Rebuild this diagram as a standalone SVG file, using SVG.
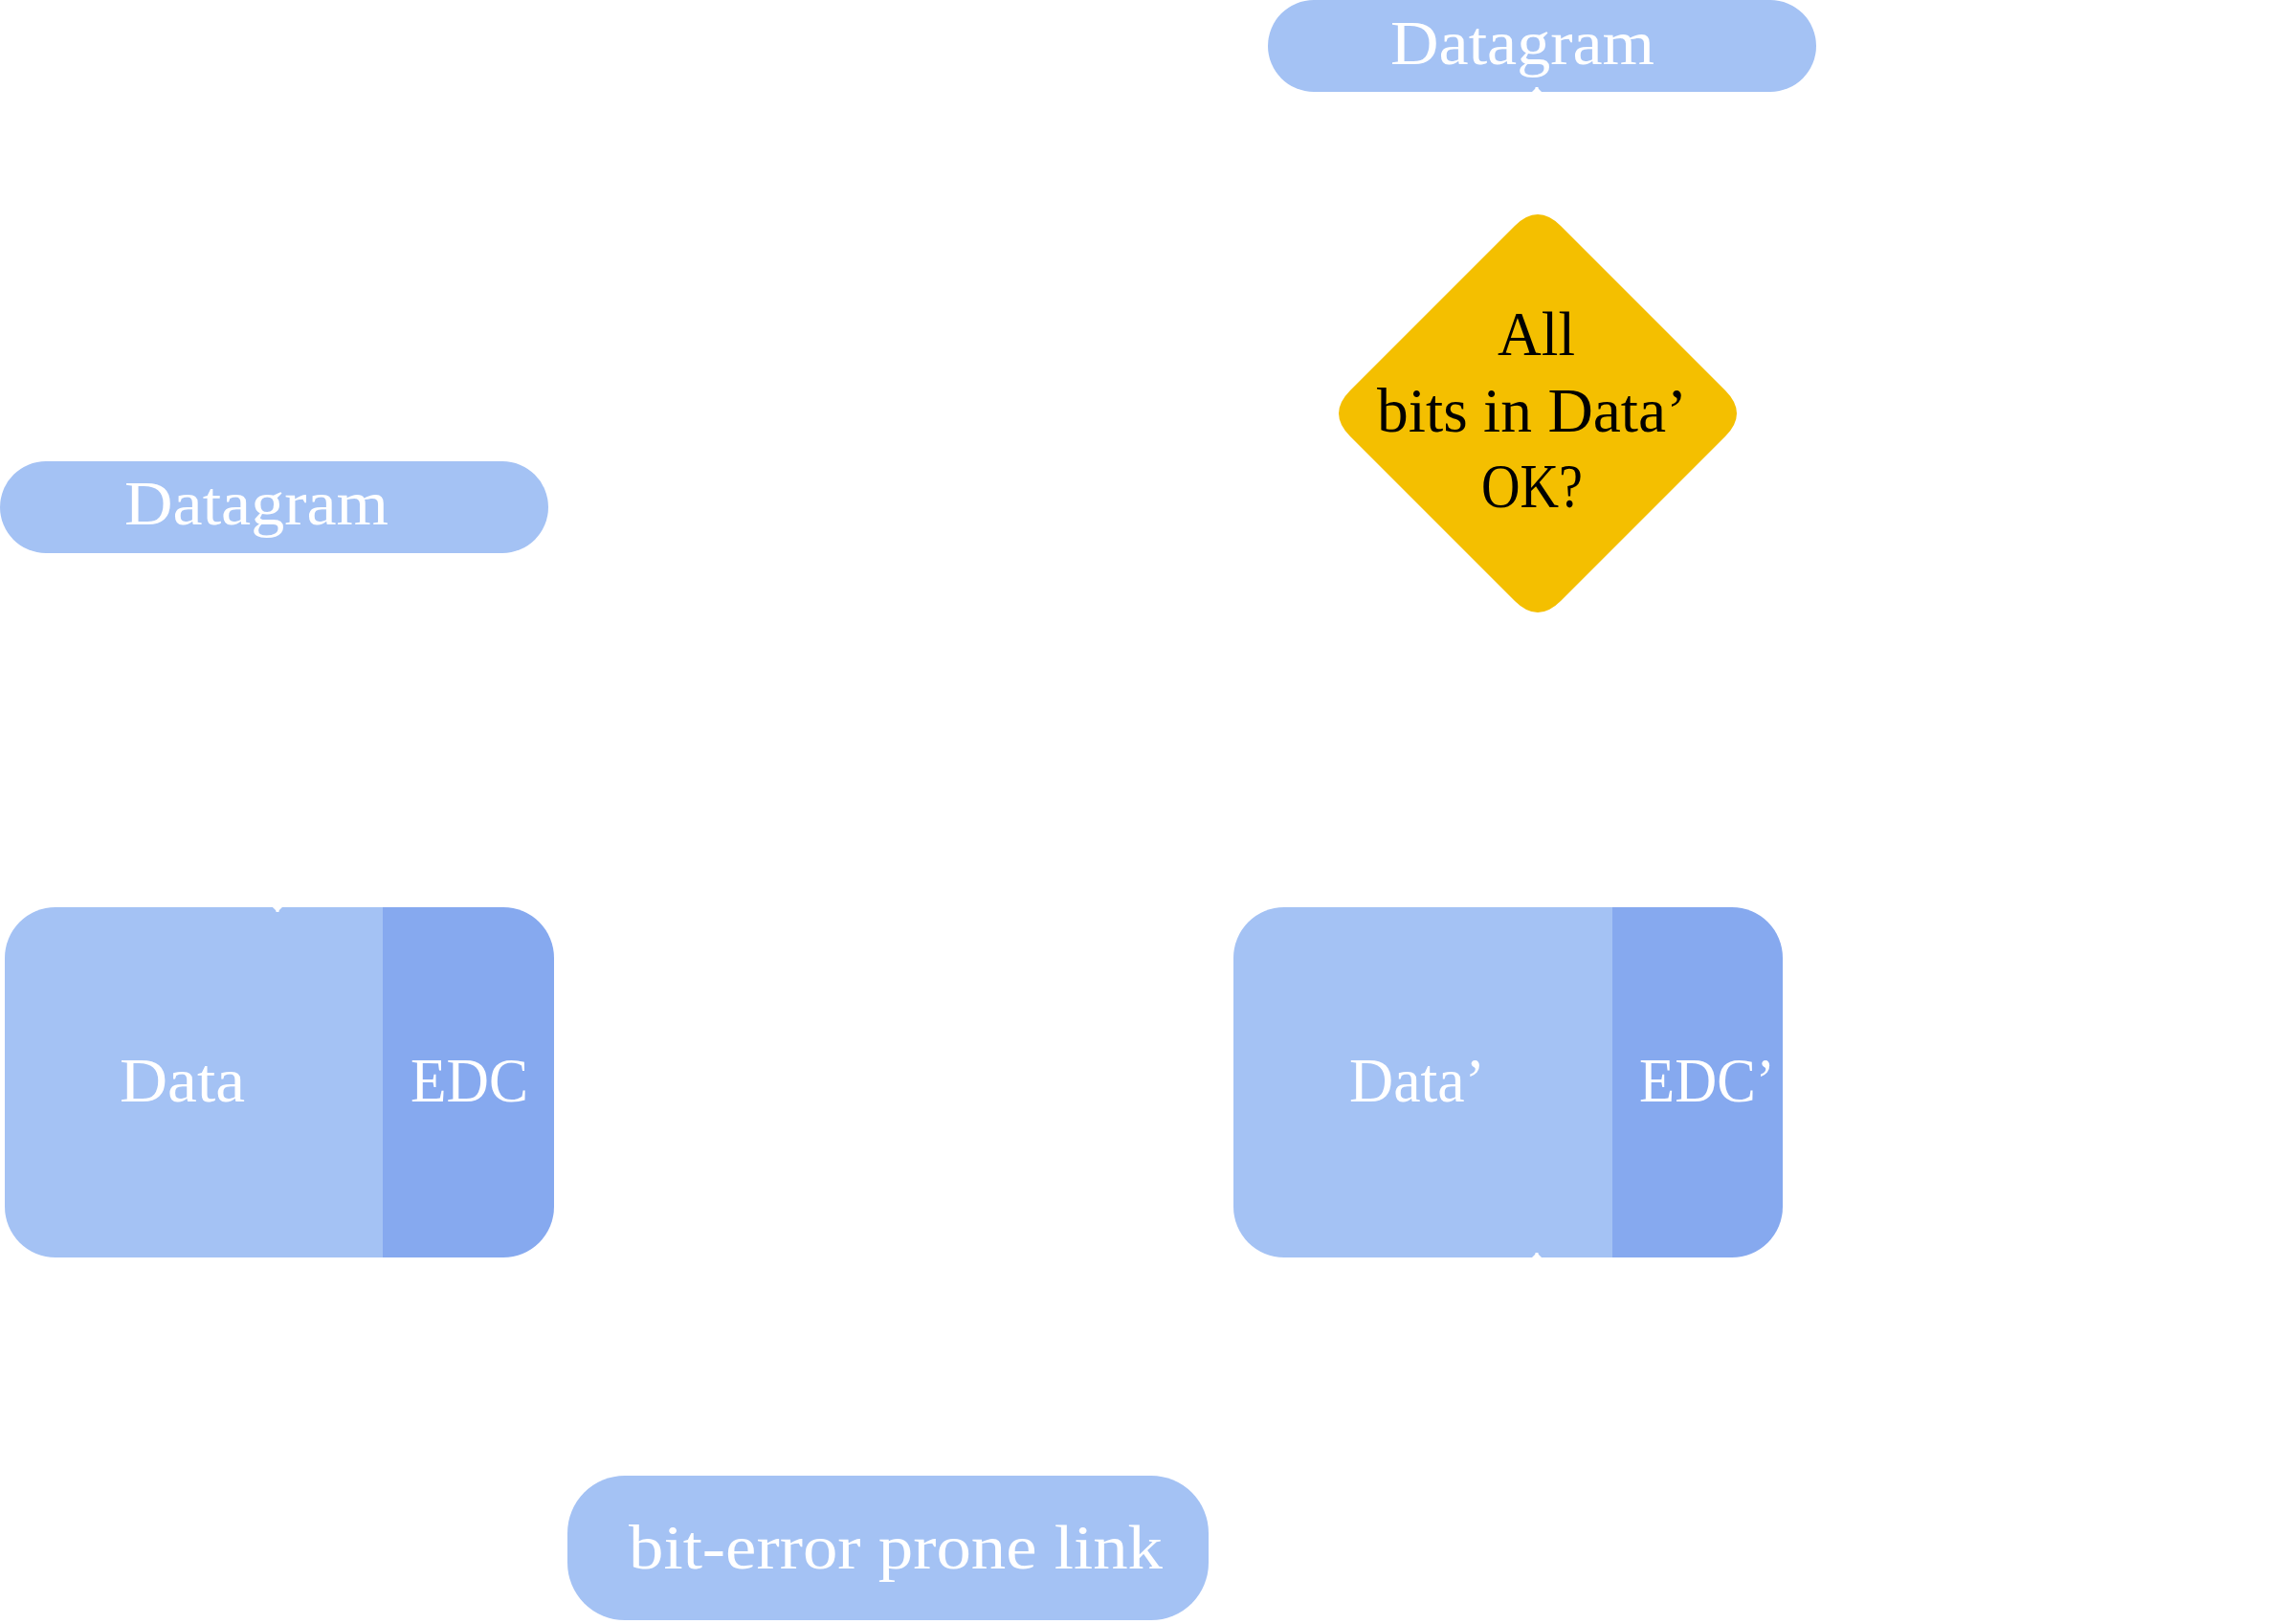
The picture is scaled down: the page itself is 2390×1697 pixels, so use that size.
<svg xmlns="http://www.w3.org/2000/svg" width="2390" height="1697" viewBox="0 0 2390 1697">
  <defs>
    <style>
      .lt { fill: #A4C2F4; }
      .dk { fill: #86A9EF; }
      .yl { fill: #F4BF00; }
      .wt { font-family: "Liberation Serif", "DejaVu Serif", serif; font-size: 66px; fill: #FFFFFF; }
      .bk { font-family: "Liberation Serif", "DejaVu Serif", serif; font-size: 66px; fill: #000000; }
      .edge { fill: none; stroke: #FFFFFF; stroke-width: 3; }
    </style>
    <marker id="arrow" markerUnits="userSpaceOnUse" markerWidth="20" markerHeight="20" refX="10" refY="10" orient="auto">
      <path d="M0,0 L10,10 L0,20 z" fill="#FFFFFF"/>
    </marker>
    <clipPath id="clipData">
      <rect x="5" y="948" width="574" height="366" rx="53" ry="53"/>
    </clipPath>
    <clipPath id="clipDataP">
      <rect x="1289" y="948" width="574" height="366" rx="53" ry="53"/>
    </clipPath>
  </defs>

  <rect width="2390" height="1697" fill="#FFFFFF"/>

  <g id="datagram-top">
    <rect class="lt" x="1325" y="0" width="573" height="96" rx="48" ry="48"/>
    <text class="wt" x="1453" y="67" textLength="276" lengthAdjust="spacingAndGlyphs">Datagram</text>
  </g>

  <g id="decision">
    <path class="yl" d="M1583,236 Q1607,212 1631,236 L1803,408 Q1827,432 1803,456 L1631,628 Q1607,652 1583,628 L1411,456 Q1387,432 1411,408 Z"/>
    <text class="bk" x="1565" y="371" textLength="81" lengthAdjust="spacingAndGlyphs">All</text>
    <text class="bk" x="1439" y="451" textLength="324" lengthAdjust="spacingAndGlyphs">bits in Data’</text>
    <text class="bk" x="1548" y="530" textLength="106" lengthAdjust="spacingAndGlyphs">OK?</text>
  </g>

  <g id="datagram-left">
    <rect class="lt" x="0" y="482" width="573" height="96" rx="48" ry="48"/>
    <text class="wt" x="130" y="548" textLength="276" lengthAdjust="spacingAndGlyphs">Datagram</text>
  </g>

  <g id="frame-sent">
    <g clip-path="url(#clipData)">
      <rect class="lt" x="5" y="948" width="395" height="366"/>
      <rect class="dk" x="400" y="948" width="179" height="366"/>
    </g>
    <text class="wt" x="125" y="1151" textLength="131" lengthAdjust="spacingAndGlyphs">Data</text>
    <text class="wt" x="429" y="1151" textLength="123" lengthAdjust="spacingAndGlyphs">EDC</text>
  </g>

  <g id="frame-received">
    <g clip-path="url(#clipDataP)">
      <rect class="lt" x="1289" y="948" width="396" height="366"/>
      <rect class="dk" x="1685" y="948" width="178" height="366"/>
    </g>
    <text class="wt" x="1410" y="1151" textLength="142" lengthAdjust="spacingAndGlyphs">Data’</text>
    <text class="wt" x="1713" y="1151" textLength="142" lengthAdjust="spacingAndGlyphs">EDC’</text>
  </g>

  <g id="link">
    <rect class="lt" x="593" y="1542" width="670" height="151" rx="60" ry="60"/>
    <text class="wt" x="657" y="1639" textLength="558" lengthAdjust="spacingAndGlyphs">bit-error prone link</text>
  </g>

  <g id="connectors">
    <path class="edge" d="M287,578 L290,953" marker-end="url(#arrow)"/>
    <path class="edge" d="M290,1314 L290,1617 L593,1617"/>
    <path class="edge" d="M1263,1617 L1606,1617 L1606,1309" marker-end="url(#arrow)"/>
    <path class="edge" d="M1606,948 L1606,645" marker-end="url(#arrow)"/>
    <path class="edge" d="M1606,224 L1606,91" marker-end="url(#arrow)"/>
  </g>
</svg>
